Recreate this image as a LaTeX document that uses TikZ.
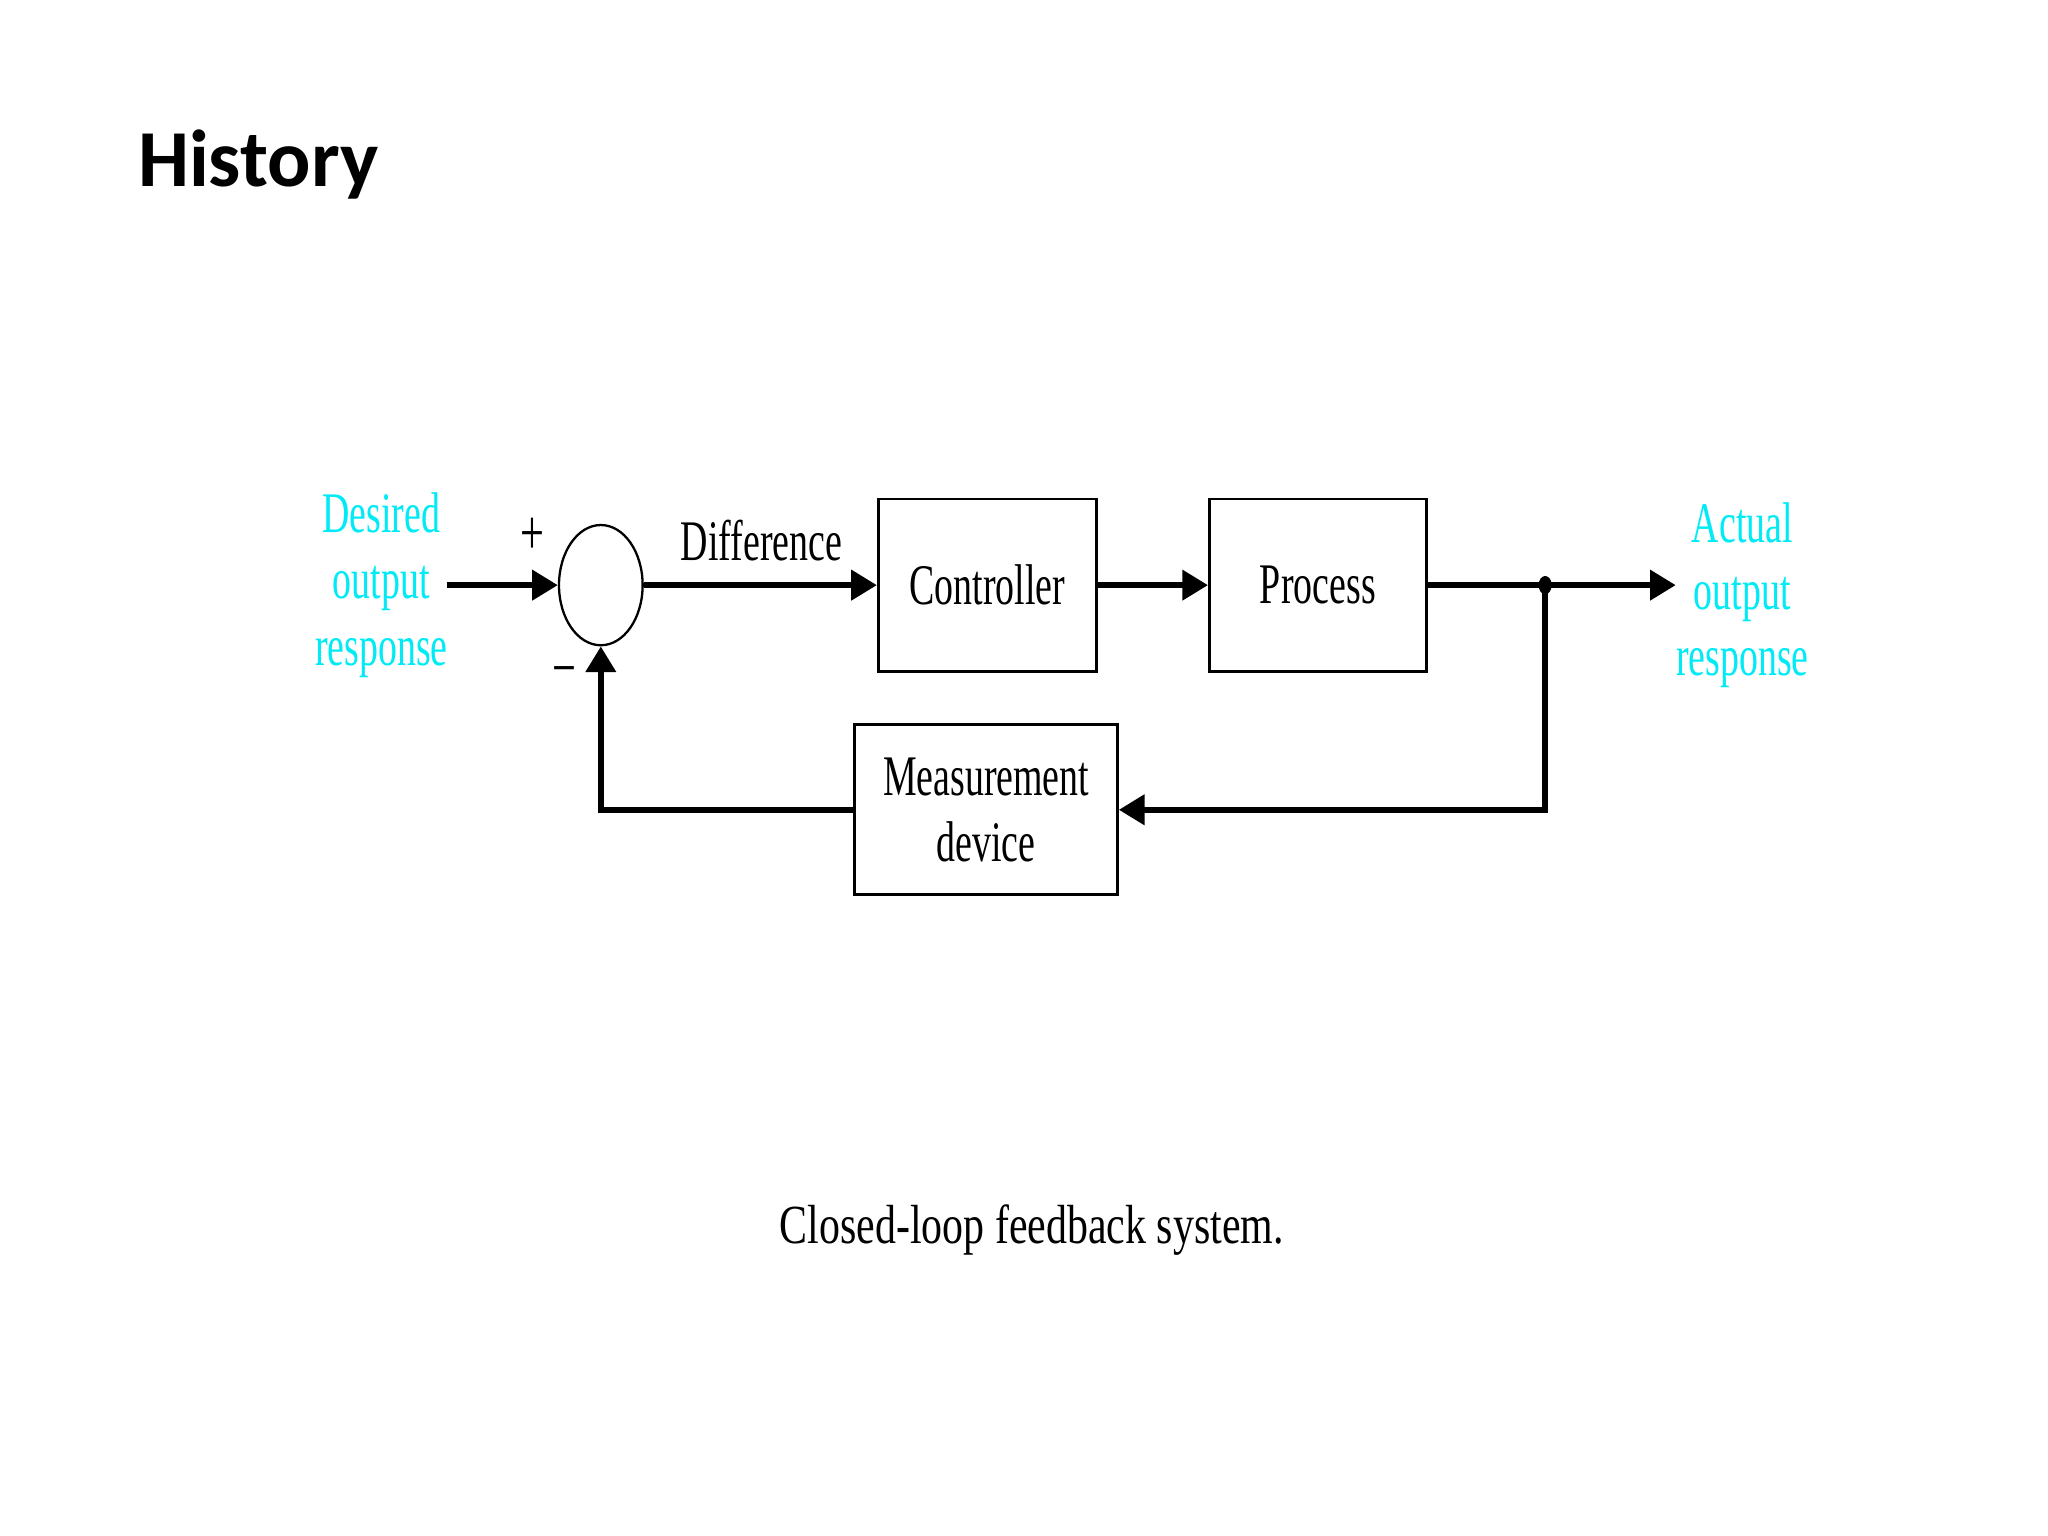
\documentclass[tikz,border=0pt]{standalone}
\usepackage{fontspec}
\setmainfont{Liberation Serif}[FakeStretch=0.66]
\newfontfamily\titlefont{Carlito}
\newfontfamily\capfont{Liberation Serif}[FakeStretch=0.76]
\usetikzlibrary{arrows.meta,shapes.geometric}
\definecolor{cyantext}{RGB}{0,235,245}
\begin{document}
\begin{tikzpicture}[x=0.01cm,y=-0.01cm,
  blk/.style={draw,line width=0.6pt,inner sep=0pt,align=center,font=\fontsize{12.5}{14.5}\selectfont},
  sig/.style={line width=1.3pt,-{Triangle[length=5.6pt,width=6.4pt]}},
  lbl/.style={inner sep=0pt,align=center,font=\fontsize{12.5}{14.5}\selectfont},
  cyanlbl/.style={lbl,text=cyantext}]
\useasboundingbox (0,0) rectangle (1568,1176);
\node[anchor=base west,inner sep=0pt,font=\titlefont\bfseries\fontsize{17.6}{21}\selectfont] (title) at (105,143) {History};
% blocks
\node[ellipse,draw,line width=0.5pt,minimum width=0.64cm,minimum height=0.92cm,inner sep=0pt] (sum) at (460,448) {};
\node[blk,minimum width=1.67cm,minimum height=1.32cm] (ctrl) at (756,448) {Controller};
\node[blk,minimum width=1.66cm,minimum height=1.32cm] (proc) at (1009,448) {Process};
\node[blk,minimum width=2.01cm,minimum height=1.30cm] (meas) at (755,620) {Measurement\\device};
% labels
\node[cyanlbl] (desired) at (292,448) {Desired\\output\\response};
\node[cyanlbl] (actual) at (1334,456) {Actual\\output\\response};
\node[lbl,font=\fontsize{14}{16}\selectfont] (plus) at (408,411) {+};
\node[lbl,font=\fontsize{14}{16}\selectfont] (minus) at (432,519) {−};
\node[lbl] (diff) at (583,414) {Difference};
\node[anchor=base,inner sep=0pt,font=\capfont\fontsize{12}{14}\selectfont] (caption) at (790,952) {Closed-loop feedback system.};
% coordinates
\coordinate (in) at (342,448);
\coordinate (junc) at (1183,448);
\coordinate (out) at (1283,448);
\coordinate (fbc) at (1183,620);
% connectors
\draw[sig] (in) -- (sum.west);
\draw[sig] (sum.east) -- (ctrl.west);
\draw[sig] (ctrl.east) -- (proc.west);
\draw[sig] (proc.east) -- (out);
\draw[sig] (junc) -- (fbc) -- (meas.east);
\draw[sig] (meas.west) -| (sum.south);
\fill (junc) ellipse [x radius=5, y radius=7];
\end{tikzpicture}
\end{document}
